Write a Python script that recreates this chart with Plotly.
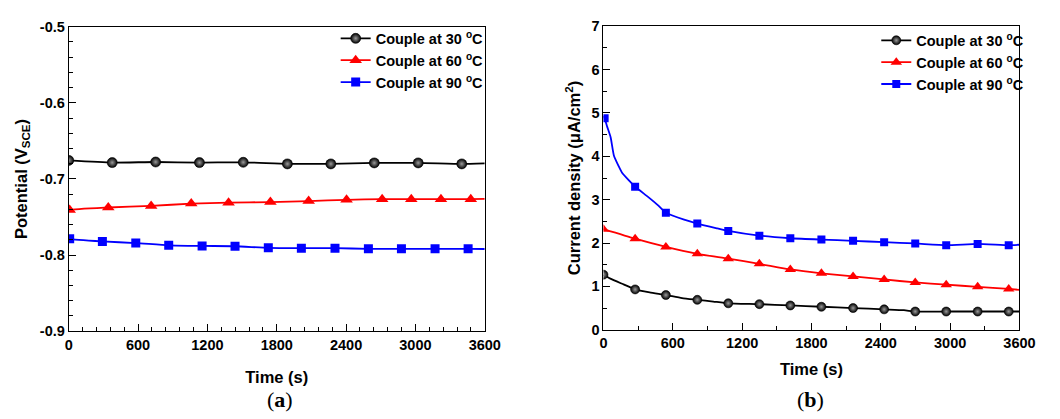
import numpy as np
import plotly.graph_objects as go

W, H = 1060, 419

# ---------------- (a) potential vs time, V vs SCE ----------------
pot_t_30 = [0, 376, 752, 1131, 1510, 1892, 2268, 2644, 3024, 3401, 3600]
pot_v_30 = [-0.6756, -0.6785, -0.6777, -0.6785, -0.6781, -0.6802, -0.6802,
            -0.6789, -0.6789, -0.6802, -0.6795]
pot_m_30 = [0, 376, 752, 1131, 1510, 1892, 2268, 2644, 3024, 3401]

pot_t_60 = [0, 8, 342, 713, 1060, 1383, 1745, 2076, 2404, 2712, 2964, 3221, 3479, 3600]
pot_v_60 = [-0.7420, -0.7408, -0.7375, -0.7354, -0.7324, -0.7312, -0.7303, -0.7291,
            -0.7274, -0.7265, -0.7265, -0.7265, -0.7265, -0.7262]
pot_m_60 = [8, 342, 713, 1060, 1383, 1745, 2076, 2404, 2712, 2964, 3221, 3479]

pot_t_90 = [0, 8, 291, 580, 865, 1154, 1439, 1727, 2013, 2304, 2593, 2879, 3170, 3456, 3600]
pot_v_90 = [-0.7780, -0.7787, -0.7821, -0.7842, -0.7872, -0.7880, -0.7884, -0.7905,
            -0.7909, -0.7909, -0.7918, -0.7918, -0.7918, -0.7918, -0.7920]
pot_m_90 = [8, 291, 580, 865, 1154, 1439, 1727, 2013, 2304, 2593, 2879, 3170, 3456]

pot_ticks = [-0.9, -0.8, -0.7, -0.6, -0.5]
pot_ticktext = ["-0.9", "-0.8", "-0.7", "-0.6", "-0.5"]

# ---------------- (b) current density vs time, uA/cm2 ----------------
cd_t_30 = [0, 20, 60, 161, 274, 400, 540, 680, 812, 950, 1080, 1349, 1617, 1886,
           2160, 2429, 2600, 2698, 2966, 3238, 3507, 3600]
cd_v_30 = [1.27, 1.24, 1.18, 1.06, 0.93, 0.86, 0.80, 0.73, 0.69, 0.65, 0.61, 0.59,
           0.56, 0.53, 0.50, 0.47, 0.45, 0.42, 0.42, 0.42, 0.42, 0.42]
cd_m_30 = [0, 274, 540, 812, 1080, 1349, 1617, 1886, 2160, 2429, 2698, 2966, 3238, 3507]

cd_t_60 = [0, 274, 540, 812, 1080, 1349, 1617, 1886, 2160, 2429, 2698, 2966, 3238, 3507, 3600]
cd_v_60 = [2.32, 2.10, 1.91, 1.75, 1.64, 1.52, 1.39, 1.30, 1.23, 1.16, 1.09, 1.04,
           0.99, 0.94, 0.92]
cd_m_60 = [0, 274, 540, 812, 1080, 1349, 1617, 1886, 2160, 2429, 2698, 2966, 3238, 3507]

cd_t_90 = [0, 10, 30, 62, 90, 130, 161, 218, 274, 388, 473, 540, 698, 812, 981, 1080,
           1349, 1617, 1886, 2160, 2429, 2698, 2966, 3238, 3507, 3600]
cd_v_90 = [4.93, 4.88, 4.70, 4.44, 4.02, 3.78, 3.62, 3.45, 3.30, 3.06, 2.87, 2.70,
           2.54, 2.45, 2.34, 2.28, 2.17, 2.11, 2.08, 2.05, 2.02, 1.99, 1.95, 1.98,
           1.95, 1.96]
cd_m_90 = [10, 274, 540, 812, 1080, 1349, 1617, 1886, 2160, 2429, 2698, 2966, 3238, 3507]

series_names = ["Couple at 30 <sup>o</sup>C", "Couple at 60 <sup>o</sup>C",
                "Couple at 90 <sup>o</sup>C"]
colors = ["#000000", "#ff0000", "#0000ff"]

SANS = "Liberation Sans"


def pick(t, v, marks):
    t = np.asarray(t)
    v = np.asarray(v)
    sel = np.isin(t, marks)
    return t[sel], v[sel]


def marker_style(i, size):
    if i == 0:
        return dict(symbol="circle", size=size, color="#000000",
                    gradient=dict(type="radial", color="#9a9a9a"),
                    line=dict(width=0.6, color="#000000"))
    if i == 1:
        return dict(symbol="triangle-up", size=size + 1, color=colors[1], line=dict(width=0))
    return dict(symbol="square", size=size - 1, color=colors[2], line=dict(width=0))


fig = go.Figure()

panels = [
    ("x", "y", "legend", [(pot_t_30, pot_v_30, pot_m_30),
                          (pot_t_60, pot_v_60, pot_m_60),
                          (pot_t_90, pot_v_90, pot_m_90)], 10),
    ("x2", "y2", "legend2", [(cd_t_30, cd_v_30, cd_m_30),
                             (cd_t_60, cd_v_60, cd_m_60),
                             (cd_t_90, cd_v_90, cd_m_90)], 9),
]

for xa, ya, leg, data, msize in panels:
    for i, (t, v, m) in enumerate(data):
        fig.add_trace(go.Scatter(x=t, y=v, mode="lines", xaxis=xa, yaxis=ya,
                                 line=dict(color=colors[i], width=1.8,
                                           shape="spline", smoothing=0.5),
                                 showlegend=False, hoverinfo="skip"))
        mt, mv = pick(t, v, m)
        fig.add_trace(go.Scatter(x=mt, y=mv, mode="markers", xaxis=xa, yaxis=ya,
                                 marker=marker_style(i, msize), showlegend=False))
    for i in range(3):
        fig.add_trace(go.Scatter(x=[None], y=[None], mode="lines+markers",
                                 xaxis=xa, yaxis=ya, name=series_names[i], legend=leg,
                                 line=dict(color=colors[i], width=1.8),
                                 marker=marker_style(i, msize)))

tickfont = dict(family=SANS, size=14.5, color="black", weight="bold")
titlefont = dict(family=SANS, size=16.5, color="black", weight="bold")

fig.update_layout(
    width=W, height=H,
    margin=dict(l=0, r=0, t=0, b=0),
    paper_bgcolor="white", plot_bgcolor="white",
    xaxis=dict(domain=[66 / W, 490 / W], anchor="y",
               title=dict(text="Time (s)", font=titlefont, standoff=19)),
    yaxis=dict(domain=[1 - 336 / H, 1 - 19.5 / H], anchor="x",
               title=dict(text="Potential (V<sub>SCE</sub>)", font=titlefont, standoff=8)),
    xaxis2=dict(domain=[611 / W, 1035 / W], anchor="y2",
                title=dict(text="Time (s)", font=titlefont, standoff=13)),
    yaxis2=dict(domain=[1 - 334.5 / H, 1 - 19 / H], anchor="x2",
                title=dict(text="Current density (\u03bcA/cm<sup>2</sup>)",
                           font=titlefont, standoff=6)),
    legend=dict(x=494 / W, xanchor="right", y=1 - 15 / H, yanchor="top",
                bgcolor="rgba(0,0,0,0)", borderwidth=0,
                font=dict(family=SANS, size=14.5, color="black", weight="bold")),
    legend2=dict(x=1045 / W, xanchor="right", y=1 - 17 / H, yanchor="top",
                 bgcolor="rgba(0,0,0,0)", borderwidth=0,
                 font=dict(family=SANS, size=14.5, color="black", weight="bold")),
    annotations=[
        dict(text="(<b>a</b>)", x=281 / W, y=1 - 407 / H, xref="paper", yref="paper",
             xanchor="center", yanchor="middle", showarrow=False,
             font=dict(family="Liberation Serif", size=22, color="black")),
        dict(text="(<b>b</b>)", x=822 / W, y=1 - 407 / H, xref="paper", yref="paper",
             xanchor="center", yanchor="middle", showarrow=False,
             font=dict(family="Liberation Serif", size=22, color="black")),
    ],
)

# axis frames with inward major and minor ticks
fig.update_xaxes(range=[0, 3600], tickmode="linear", tick0=0, dtick=600,
                 ticks="inside", ticklen=7, tickwidth=1, tickcolor="black",
                 showline=True, linecolor="black", mirror=True, showgrid=False,
                 zeroline=False, tickfont=tickfont,
                 minor=dict(ticks="inside", ticklen=4, tickcolor="black", tickwidth=1,
                            dtick=120))
fig.update_yaxes(ticks="inside", ticklen=7, tickwidth=1, tickcolor="black",
                 showline=True, linecolor="black", mirror=True, showgrid=False,
                 zeroline=False, tickfont=tickfont,
                 minor=dict(ticks="inside", ticklen=4, tickcolor="black", tickwidth=1))
fig.update_layout(
    xaxis2_minor_dtick=300,
    yaxis=dict(range=[-0.9, -0.5], tickmode="array", tickvals=pot_ticks,
               ticktext=pot_ticktext, minor_dtick=0.02),
    yaxis2=dict(range=[0, 7], tickmode="linear", tick0=0, dtick=1, minor_dtick=0.5),
)

fig.write_html("out.html")
